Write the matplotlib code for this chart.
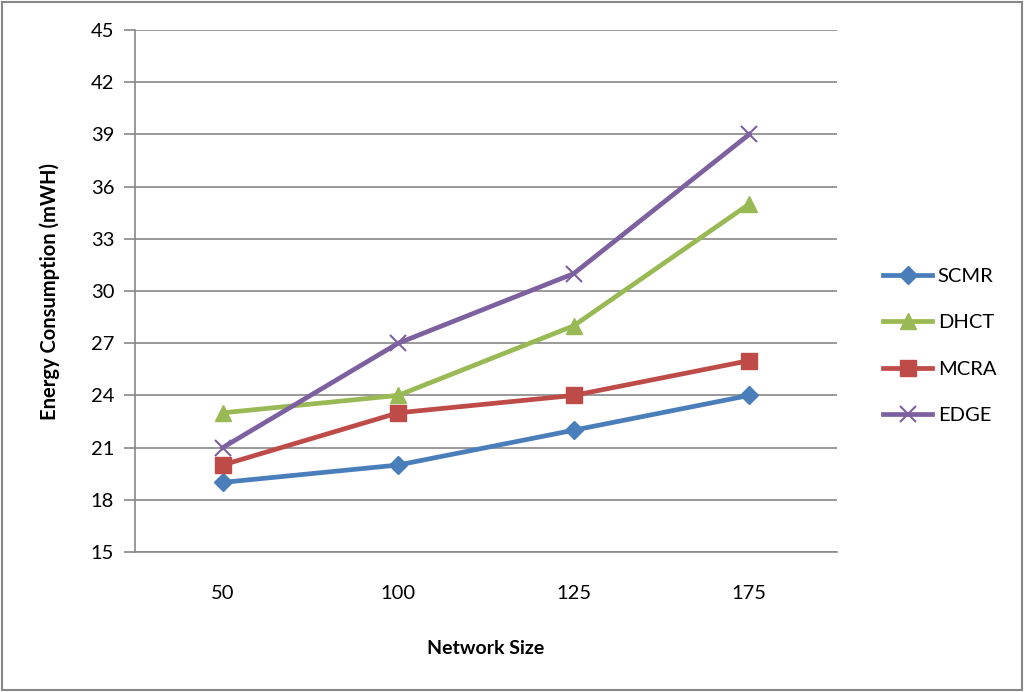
import matplotlib.pyplot as plt
from matplotlib.patches import Rectangle

plt.rcParams['font.family'] = ['Lato', 'DejaVu Sans']

network_sizes = ['50', '100', '125', '175']
scmr = [19, 20, 22, 24]
dhct = [23, 24, 28, 35]
mcra = [20, 23, 24, 26]
edge = [21, 27, 31, 39]

fig = plt.figure(figsize=(10.24, 6.92), dpi=100)
ax = fig.add_axes([0.1318, 0.2023, 0.6855, 0.7543])

x = range(len(network_sizes))
ax.plot(x, scmr, color='#4a7ebb', lw=3.4, marker='D', ms=9, label='SCMR', zorder=3)
ax.plot(x, dhct, color='#98b954', lw=3.4, marker='^', ms=12, label='DHCT', zorder=3)
ax.plot(x, mcra, color='#be4b48', lw=3.4, marker='s', ms=11, label='MCRA', zorder=3)
ax.plot(x, edge, color='#7d60a0', lw=3.4, marker='x', ms=12, mew=1.5, label='EDGE', zorder=4)

ax.set_xlim(-0.5, 3.5)
ax.set_ylim(15, 45)
ax.set_yticks(range(15, 46, 3))
ax.set_xticks(list(x))
ax.set_xticklabels(network_sizes)
ax.grid(axis='y', color='#878787', lw=1.2, zorder=0)
for s in ['top', 'right']:
    ax.spines[s].set_visible(False)
for s in ['left', 'bottom']:
    ax.spines[s].set_color('#878787')
    ax.spines[s].set_linewidth(1.2)
ax.tick_params(axis='y', length=8, width=1.2, color='#878787', labelsize=14.5, pad=7)
ax.tick_params(axis='x', length=0, labelsize=14.5, pad=24)

ax.set_ylabel('Energy Consumption (mWH)', fontsize=14.5, fontweight='bold', labelpad=22)
ax.set_xlabel('Network Size', fontsize=14, fontweight='bold', labelpad=27)

ax.legend(loc='center left', bbox_to_anchor=(0.845, 0.5), bbox_transform=fig.transFigure,
          frameon=False, fontsize=14.5, handlelength=2.4, labelspacing=1.45, handletextpad=0.3)

fig.patches.append(Rectangle((0.002, 0.003), 0.996, 0.994, transform=fig.transFigure,
                             fill=False, edgecolor='#878787', lw=1.5))

fig.savefig('out.png', dpi=100)
